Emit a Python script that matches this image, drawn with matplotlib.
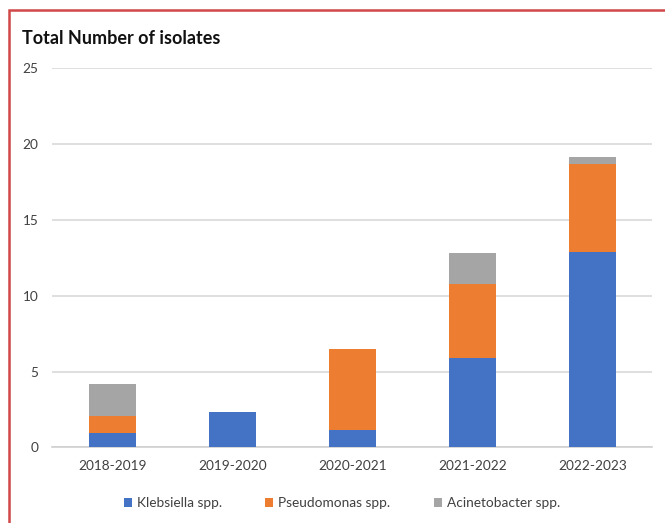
import numpy as np
import matplotlib.pyplot as plt
from matplotlib.patches import Rectangle

plt.rcParams['font.family'] = ['Lato', 'DejaVu Sans']

years = ['2018-2019', '2019-2020', '2020-2021', '2021-2022', '2022-2023']
klebsiella = [0.95, 2.3, 1.15, 5.9, 12.9]
pseudomonas = [1.1, 0.0, 5.35, 4.9, 5.8]
acinetobacter = [2.1, 0.0, 0.0, 2.05, 0.45]

fig = plt.figure(figsize=(6.65, 5.23), dpi=100)
ax = fig.add_axes([0.0789, 0.1447, 0.902, 0.7247])

x = np.arange(len(years))
w = 0.39
k = np.array(klebsiella)
p = np.array(pseudomonas)
a = np.array(acinetobacter)
ax.bar(x, k, w, color='#4472C4', label='Klebsiella spp.', zorder=3)
ax.bar(x, p, w, bottom=k, color='#ED7D31', label='Pseudomonas spp.', zorder=3)
ax.bar(x, a, w, bottom=k + p, color='#A5A5A5', label='Acinetobacter spp.', zorder=3)

ax.set_xlim(-0.5, 4.5)
ax.set_ylim(0, 25)
ax.set_yticks([0, 5, 10, 15, 20, 25])
ax.set_xticks(x)
ax.set_xticklabels(years)
ax.grid(axis='y', color='#d9d9d9', linewidth=1.2, zorder=0)
for s in ['top', 'right', 'left']:
    ax.spines[s].set_visible(False)
ax.spines['bottom'].set_color('#d0d0d0')
ax.spines['bottom'].set_linewidth(1.2)
ax.tick_params(axis='both', length=0, colors='#404040', labelsize=9.8)
ax.tick_params(axis='y', pad=10)
ax.tick_params(axis='x', pad=9)

fig.text(0.033, 0.926, 'Total Number of isolates', fontsize=13, fontweight='bold',
         color='#111111', va='center', ha='left')

ax.legend(loc='center', bbox_to_anchor=(0.4825, -0.147), ncol=3, frameon=False,
          fontsize=9.8, handlelength=0.6, handleheight=0.6, handletextpad=0.35,
          columnspacing=3.2, labelcolor='#404040')

# red frame around the figure
fig.patches.append(Rectangle((9 / 665, -0.1), 1.2, (523 - 10) / 523 + 0.1,
                             transform=fig.transFigure, fill=False,
                             edgecolor='#d04848', linewidth=1.8))

fig.savefig('out.png', dpi=100)
